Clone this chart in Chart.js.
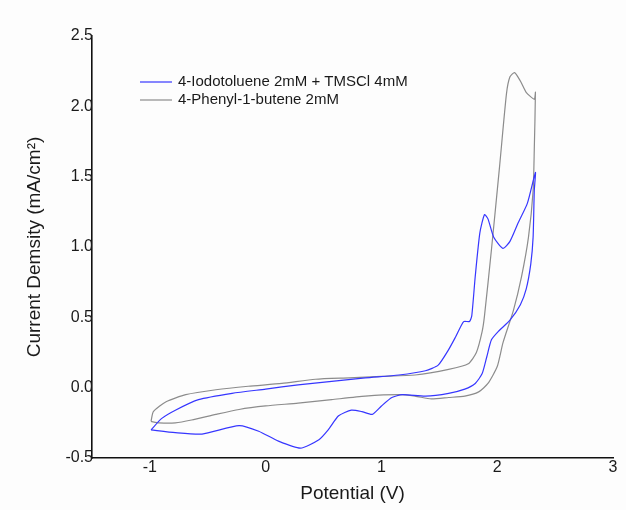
<!DOCTYPE html>
<html>
<head>
<meta charset="utf-8">
<script src="https://cdn.jsdelivr.net/npm/chart.js@4.4.1/dist/chart.umd.min.js"></script>
<style>
  body { margin: 0; background: #fdfdfd; }
  canvas { display: block; }
</style>
</head>
<body>
<canvas id="cv" width="626" height="510"></canvas>
<script>
// series names
var seriesNames = ['4-Iodotoluene 2mM + TMSCl 4mM', '4-Phenyl-1-butene 2mM'];

// 4-Iodotoluene + TMSCl: potential (V) and current density (mA/cm2), in scan order
var iodoV = [-0.99, -0.90, -0.78, -0.58, -0.29, 0.00, 0.28, 0.57, 0.86, 1.15, 1.38, 1.49, 1.58, 1.64, 1.71, 1.76, 1.78,
             1.81, 1.85, 1.89, 1.92, 1.97, 2.05, 2.11, 2.18, 2.26, 2.33,
             2.32, 2.31, 2.29, 2.25, 2.20, 2.11, 2.01, 1.95, 1.91, 1.87, 1.81, 1.72, 1.58, 1.38, 1.18, 1.09, 1.00,
             0.92, 0.83, 0.74, 0.63, 0.54, 0.46, 0.30, 0.11, -0.06, -0.23, -0.55, -0.78, -0.99];
var iodoI = [-0.30, -0.22, -0.16, -0.085, -0.04, -0.01, 0.02, 0.045, 0.07, 0.09, 0.12, 0.16, 0.27, 0.36, 0.47, 0.47, 0.51,
             0.79, 1.10, 1.23, 1.20, 1.07, 0.99, 1.04, 1.17, 1.31, 1.53,
             1.40, 1.07, 0.88, 0.70, 0.59, 0.48, 0.40, 0.34, 0.22, 0.10, 0.03, -0.01, -0.04, -0.06, -0.05, -0.07, -0.13,
             -0.19, -0.17, -0.16, -0.20, -0.30, -0.37, -0.43, -0.38, -0.31, -0.27, -0.33, -0.32, -0.30];

// 4-Phenyl-1-butene
var phenV = [-0.99, -0.97, -0.86, -0.69, -0.43, -0.15, 0.14, 0.43, 0.72, 1.00, 1.29, 1.58, 1.75, 1.82, 1.87, 1.89,
             1.95, 2.02, 2.08, 2.11, 2.15, 2.20, 2.25, 2.32, 2.33,
             2.32, 2.31, 2.27, 2.21, 2.14, 2.05, 2.00, 1.92, 1.84, 1.72, 1.58, 1.43, 1.29, 1.15, 0.86, 0.57, 0.28,
             0.00, -0.23, -0.43, -0.64, -0.78, -0.92, -0.99];
var phenI = [-0.24, -0.17, -0.10, -0.05, -0.015, 0.01, 0.03, 0.06, 0.07, 0.08, 0.09, 0.13, 0.17, 0.25, 0.40, 0.51,
             0.98, 1.57, 2.09, 2.21, 2.24, 2.18, 2.10, 2.05, 2.10,
             1.69, 1.40, 1.07, 0.79, 0.55, 0.32, 0.15, 0.03, -0.03, -0.06, -0.07, -0.08, -0.06, -0.05, -0.06, -0.085, -0.11,
             -0.13, -0.155, -0.19, -0.23, -0.25, -0.25, -0.24];

var xTicks = [-1, 0, 1, 2, 3];
var yTicks = [-0.5, 0.0, 0.5, 1.0, 1.5, 2.0, 2.5];

function pts(xs, ys) {
    return xs.map(function (x, i) { return { x: x, y: ys[i] }; });
}

var font = "'Liberation Sans', Arial, sans-serif";
var colors = ['#3636ff', '#8c8c8c'];

// legend drawn by hand (short line + label)
var legendPlugin = {
    id: 'cvLegend',
    afterDraw: function (chart) {
        var ctx = chart.ctx;
        ctx.save();
        ctx.font = '15px ' + font;
        ctx.textBaseline = 'middle';
        seriesNames.forEach(function (name, i) {
            var y = 82 + i * 18;
            ctx.strokeStyle = colors[i];
            ctx.lineWidth = 1.2;
            ctx.beginPath();
            ctx.moveTo(140, y);
            ctx.lineTo(172, y);
            ctx.stroke();
            ctx.fillStyle = '#1a1a1a';
            ctx.fillText(name, 178, y);
        });
        ctx.restore();
    }
};

var ctx = document.getElementById('cv').getContext('2d');
var chart = new Chart(ctx, {
    type: 'scatter',
    data: {
        datasets: [
            { label: seriesNames[0], data: pts(iodoV, iodoI), borderColor: colors[0] },
            { label: seriesNames[1], data: pts(phenV, phenI), borderColor: colors[1] }
        ]
    },
    options: {
        responsive: false,
        animation: false,
        showLine: true,
        elements: {
            point: { radius: 0 },
            line: { borderWidth: 1.2, tension: 0.2, fill: false }
        },
        layout: { padding: { left: 0, right: 13, top: 36, bottom: 0 } },
        plugins: { legend: { display: false }, tooltip: { enabled: false } },
        scales: {
            x: {
                min: -1.5, max: 3,
                afterBuildTicks: function (s) { s.ticks = xTicks.map(function (v) { return { value: v }; }); },
                afterFit: function (s) { s.height = 52; },
                grid: { display: true, drawOnChartArea: false, drawTicks: false },
                border: { color: '#111', width: 1.6 },
                ticks: { padding: 0, color: '#1a1a1a', font: { family: font, size: 16 } },
                title: { display: true, text: 'Potential (V)', color: '#1a1a1a', padding: { top: 0, bottom: 5 },
                         font: { family: font, size: 19 } }
            },
            y: {
                min: -0.5, max: 2.5,
                afterBuildTicks: function (s) { s.ticks = yTicks.map(function (v) { return { value: v }; }); },
                afterFit: function (s) { s.width = 92; },
                grid: { display: true, drawOnChartArea: false, drawTicks: false },
                border: { color: '#111', width: 1.6 },
                ticks: { padding: -1, color: '#1a1a1a', font: { family: font, size: 16 },
                         callback: function (v) { return v.toFixed(1); } },
                title: { display: true, text: 'Current Demsity (mA/cm²)', color: '#1a1a1a', padding: { top: 23, bottom: 0 },
                         font: { family: font, size: 19 } }
            }
        }
    },
    plugins: [legendPlugin]
});
</script>
</body>
</html>
